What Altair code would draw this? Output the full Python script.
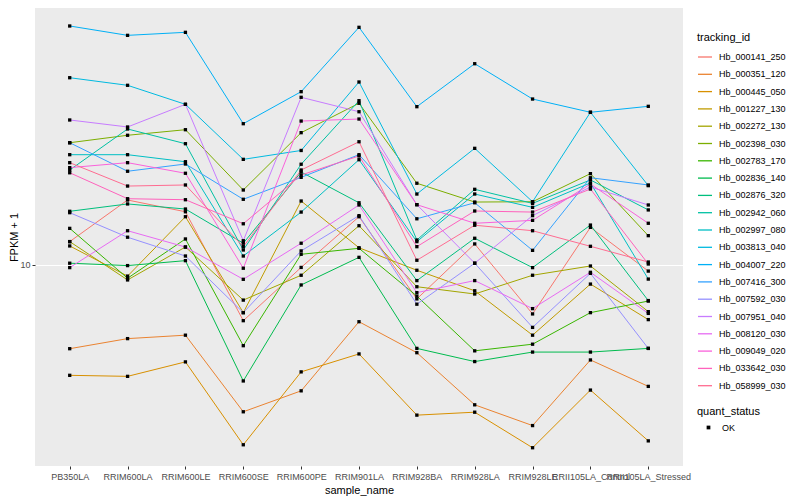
import altair as alt
import pandas as pd

samples = ["PB350LA", "RRIM600LA", "RRIM600LE", "RRIM600SE", "RRIM600PE",
           "RRIM901LA", "RRIM928BA", "RRIM928LA", "RRIM928LE",
           "RRII105LA_Control", "RRII105LA_Stressed"]

tracking_ids = ["Hb_000141_250", "Hb_000351_120", "Hb_000445_050", "Hb_001227_130",
                "Hb_002272_130", "Hb_002398_030", "Hb_002783_170", "Hb_002836_140",
                "Hb_002876_320", "Hb_002942_060", "Hb_002997_080", "Hb_003813_040",
                "Hb_004007_220", "Hb_007416_300", "Hb_007592_030", "Hb_007951_040",
                "Hb_008120_030", "Hb_009049_020", "Hb_033642_030", "Hb_058999_030"]

colors = ["#F8766D", "#EA8331", "#D89000", "#C09B00", "#A3A500", "#7CAE00", "#39B600",
          "#00BB4E", "#00BF7D", "#00C1A3", "#00BFC4", "#00BAE0", "#00B0F6", "#35A2FF",
          "#9590FF", "#C77CFF", "#E76BF3", "#FA62DB", "#FF62BC", "#FF6C91"]

# FPKM + 1 per sample (order of `samples`)
hb_000141_250 = [11.24, 13.84, 13.05, 7.57, 9.88, 12.73, 8.44, 11.11, 7.83, 12.07, 9.70]
hb_000351_120 = [6.58, 6.92, 7.04, 4.80, 5.33, 7.53, 6.45, 4.97, 4.48, 6.22, 5.45]
hb_000445_050 = [5.76, 5.73, 6.16, 4.07, 5.86, 6.41, 4.72, 4.79, 4.01, 5.35, 4.15]
hb_001227_130 = [11.00, 9.46, 12.73, 7.88, 13.77, 10.90, 9.74, 8.79, 7.04, 9.09, 7.61]
hb_002272_130 = [11.24, 9.28, 10.94, 8.39, 9.50, 12.17, 8.97, 8.65, 9.50, 9.95, 7.92]
hb_002398_030 = [18.43, 19.13, 19.67, 14.55, 19.38, 22.45, 15.05, 13.70, 13.72, 15.79, 11.58]
hb_002783_170 = [12.01, 9.36, 11.39, 6.68, 10.55, 10.87, 8.56, 6.51, 6.73, 7.88, 8.35]
hb_002836_140 = [10.09, 9.97, 10.22, 5.60, 9.05, 10.39, 6.59, 6.17, 6.47, 6.47, 6.59]
hb_002876_320 = [13.08, 13.57, 13.23, 11.15, 15.92, 13.65, 9.25, 11.43, 9.87, 12.21, 8.37]
hb_002942_060 = [16.08, 19.74, 18.34, 10.78, 16.55, 22.74, 11.33, 14.60, 13.61, 15.30, 13.17]
hb_002997_080 = [17.36, 17.36, 16.76, 10.46, 13.03, 16.93, 11.24, 14.26, 13.34, 15.07, 9.32]
hb_003813_040 = [25.51, 24.56, 22.33, 16.96, 17.73, 24.97, 14.26, 17.92, 13.72, 21.46, 14.87]
hb_004007_220 = [33.04, 31.53, 32.01, 20.27, 23.79, 32.82, 22.07, 27.36, 22.93, 21.46, 22.11]
hb_007416_300 = [18.43, 15.98, 16.57, 13.89, 15.50, 17.36, 12.60, 13.65, 10.76, 15.47, 14.92]
hb_007592_030 = [12.99, 11.49, 10.46, 7.88, 10.73, 12.80, 8.22, 10.09, 7.32, 9.59, 6.59]
hb_007951_040 = [20.65, 19.94, 22.33, 11.29, 23.13, 21.52, 13.52, 10.09, 12.80, 14.77, 13.50]
hb_008120_030 = [9.87, 11.87, 10.94, 9.31, 11.15, 13.50, 8.71, 9.25, 8.04, 9.64, 7.85]
hb_009049_020 = [16.27, 16.68, 15.82, 9.84, 20.54, 20.75, 13.52, 12.32, 12.50, 14.99, 12.32]
hb_033642_030 = [15.86, 13.93, 13.86, 12.29, 15.68, 17.25, 10.96, 13.10, 13.03, 14.62, 10.05]
hb_058999_030 = [16.68, 14.84, 14.92, 10.96, 16.08, 18.52, 10.24, 12.20, 11.87, 10.98, 10.15]

series = [hb_000141_250, hb_000351_120, hb_000445_050, hb_001227_130, hb_002272_130,
          hb_002398_030, hb_002783_170, hb_002836_140, hb_002876_320, hb_002942_060,
          hb_002997_080, hb_003813_040, hb_004007_220, hb_007416_300, hb_007592_030,
          hb_007951_040, hb_008120_030, hb_009049_020, hb_033642_030, hb_058999_030]

rows = []
for tid, vals in zip(tracking_ids, series):
    for i, (s, v) in enumerate(zip(samples, vals)):
        rows.append({"sample_name": s, "tracking_id": tid, "fpkm": v,
                     "quant_status": "OK", "idx": i})
df = pd.DataFrame(rows)

FONT = "Liberation Sans"

x = alt.X("sample_name:N", sort=samples,
          scale=alt.Scale(type="point", padding=0.6),
          axis=alt.Axis(title="sample_name", labelAngle=0, labelOverlap=False,
                        labelBound=False, labelFlush=False, labelPadding=3,
                        titlePadding=3))
y = alt.Y("fpkm:Q",
          scale=alt.Scale(type="log", domain=[3.66, 36.15], nice=False, zero=False),
          axis=alt.Axis(title="FPKM + 1", values=[10], format="d", labelPadding=2,
                        titleX=-16))

lines = alt.Chart(df).mark_line(strokeWidth=1).encode(
    x=x, y=y,
    color=alt.Color("tracking_id:N",
                    scale=alt.Scale(domain=tracking_ids, range=colors),
                    legend=alt.Legend(title="tracking_id", orient="none",
                                      legendX=662, legendY=24,
                                      symbolType="stroke", symbolSize=196,
                                      symbolStrokeWidth=1.3, rowPadding=4.3,
                                      labelOffset=6, titlePadding=6, padding=0)),
    order="idx:Q",
)

points = alt.Chart(df).mark_point(filled=True, size=11, opacity=1, color="black").encode(
    x=x, y=y,
    shape=alt.Shape("quant_status:N",
                    scale=alt.Scale(domain=["OK"], range=["square"]),
                    legend=alt.Legend(title="quant_status", orient="none",
                                      legendX=662, legendY=398,
                                      symbolSize=14, symbolFillColor="black",
                                      symbolStrokeColor="black", symbolOffset=7,
                                      labelOffset=9, titlePadding=6, padding=0)),
)

chart = alt.layer(lines, points).properties(
    width=648, height=458,
    padding={"left": 27, "top": 0, "right": 105, "bottom": 30},
    autosize=alt.AutoSizeParams(type="none"),
    background="white",
).configure_view(
    fill="#EBEBEB", stroke=None
).configure_axis(
    domain=False, tickColor="#333333", tickSize=3, tickWidth=1,
    labelColor="#4D4D4D", labelFont=FONT, labelFontSize=9,
    titleFont=FONT, titleFontSize=11, titleFontWeight="normal", titleColor="black",
    gridColor="white", gridWidth=1,
).configure_legend(
    labelFont=FONT, labelFontSize=9, labelColor="black",
    titleFont=FONT, titleFontSize=11, titleFontWeight="normal", titleColor="black",
)

chart.save("out.html", embed_options={"renderer": "svg", "actions": False})
